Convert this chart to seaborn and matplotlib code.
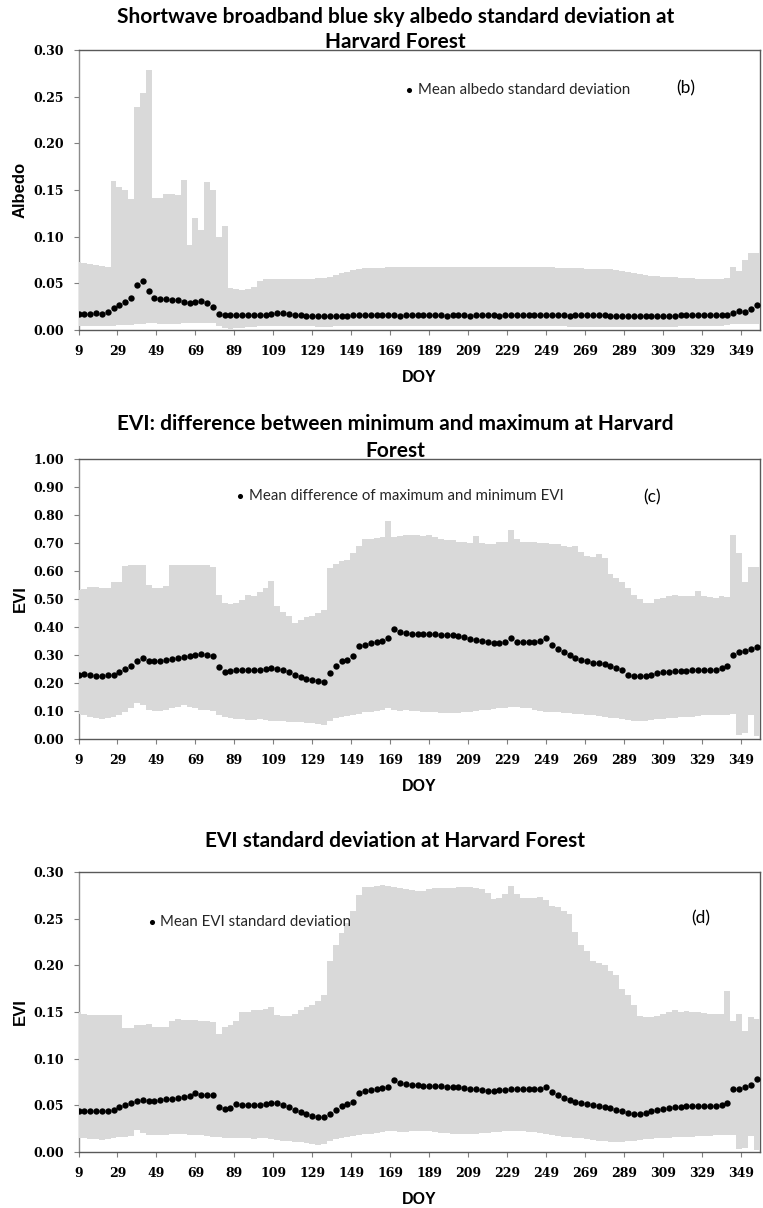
import numpy as np
import matplotlib
matplotlib.use("Agg")
import matplotlib.pyplot as plt
import seaborn as sns
from matplotlib.ticker import MultipleLocator, FormatStrFormatter

# ---------------- data (3-day resolution) ----------------
doy = list(range(9, 358, 3))          # day-of-year categories 9 ... 357
xtick_days = [9, 29, 49, 69, 89, 109, 129, 149, 169, 189, 209, 229, 249, 269, 289, 309, 329, 349]

# (b) Shortwave broadband blue sky albedo standard deviation
alb_max = [.073, .072, .071, .070, .069, .067, .160, .153, .150, .140,
           .239, .254, .279, .141, .141, .146, .146, .145, .161, .091,
           .120, .107, .159, .150, .100, .111, .045, .044, .043, .044,
           .046, .052, .055, .055, .055, .055, .055, .055, .055, .055,
           .055, .056, .056, .057, .059, .061, .062, .064, .065, .066,
           .066, .066, .066, .067, .067, .067, .067, .068, .068, .068,
           .068, .068, .068, .067, .068, .068, .068, .067, .067, .068,
           .068, .068, .068, .068, .067, .067, .067, .067, .067, .067,
           .067, .067, .066, .066, .066, .066, .066, .065, .065, .065,
           .065, .065, .064, .063, .062, .061, .060, .059, .058, .058,
           .057, .057, .057, .056, .056, .056, .055, .055, .055, .055,
           .055, .056, .068, .063, .075, .083, .082]
alb_min = [.004, .004, .004, .004, .004, .004, .004, .005, .005, .005,
           .006, .006, .007, .007, .006, .006, .006, .006, .007, .007,
           .007, .008, .008, .007, .004, .002, .001, .002, .002, .003,
           .003, .004, .004, .004, .004, .004, .004, .004, .004, .004,
           .004, .003, .003, .003, .004, .004, .004, .004, .004, .004,
           .004, .004, .004, .004, .004, .004, .004, .004, .004, .004,
           .004, .004, .004, .004, .004, .004, .004, .004, .004, .004,
           .004, .004, .004, .004, .004, .004, .004, .004, .004, .004,
           .004, .004, .004, .004, .003, .003, .003, .003, .003, .003,
           .003, .003, .003, .003, .003, .003, .003, .003, .003, .003,
           .003, .003, .003, .004, .004, .004, .004, .004, .004, .004,
           .004, .005, .006, .006, .006, .006, .006]
alb_mean = [.017, .017, .017, .018, .017, .019, .024, .027, .030, .034,
            .048, .052, .042, .034, .033, .033, .032, .032, .030, .029,
            .030, .031, .029, .025, .017, .016, .016, .016, .016, .016,
            .016, .016, .016, .017, .018, .018, .017, .016, .016, .015,
            .015, .015, .015, .015, .015, .015, .015, .016, .016, .016,
            .016, .016, .016, .016, .016, .015, .016, .016, .016, .016,
            .016, .016, .016, .015, .016, .016, .016, .015, .016, .016,
            .016, .016, .015, .016, .016, .016, .016, .016, .016, .016,
            .016, .016, .016, .016, .015, .016, .016, .016, .016, .016,
            .016, .015, .015, .015, .015, .015, .015, .015, .015, .015,
            .015, .015, .015, .016, .016, .016, .016, .016, .016, .016,
            .016, .016, .018, .020, .019, .022, .027]

# (c) EVI: difference between minimum and maximum
evid_max = [.532, .535, .544, .544, .540, .538, .562, .562, .618, .620,
            .620, .620, .550, .538, .540, .545, .620, .620, .620, .620,
            .620, .620, .620, .615, .514, .485, .482, .485, .495, .514,
            .510, .525, .540, .565, .475, .455, .440, .415, .425, .435,
            .440, .450, .460, .610, .625, .635, .640, .665, .690, .715,
            .715, .718, .720, .780, .720, .725, .728, .730, .728, .725,
            .730, .722, .715, .712, .710, .705, .702, .700, .725, .700,
            .698, .698, .702, .705, .745, .715, .705, .705, .705, .700,
            .700, .698, .695, .690, .685, .690, .668, .655, .650, .660,
            .645, .590, .575, .560, .540, .515, .500, .485, .485, .500,
            .505, .510, .515, .510, .512, .510, .530, .510, .508, .505,
            .510, .508, .730, .665, .562, .615, .615]
evid_min = [.090, .085, .080, .075, .070, .075, .080, .085, .095, .110,
            .130, .120, .105, .100, .100, .105, .110, .115, .120, .115,
            .110, .105, .105, .100, .085, .080, .075, .070, .070, .068,
            .068, .070, .068, .065, .065, .063, .062, .060, .060, .058,
            .058, .055, .050, .065, .075, .080, .082, .085, .090, .095,
            .095, .100, .105, .110, .105, .100, .105, .100, .100, .098,
            .096, .095, .094, .092, .092, .093, .095, .098, .100, .102,
            .105, .108, .110, .112, .115, .115, .112, .110, .105, .100,
            .098, .096, .095, .094, .092, .090, .088, .086, .085, .082,
            .080, .076, .074, .070, .068, .066, .065, .066, .068, .070,
            .072, .074, .076, .078, .078, .080, .082, .084, .085, .086,
            .086, .085, .090, .015, .020, .085, .010]
evid_mean = [.230, .232, .228, .226, .226, .228, .230, .238, .250, .262,
             .280, .288, .280, .278, .280, .283, .285, .288, .292, .295,
             .300, .302, .300, .298, .258, .238, .242, .248, .248, .248,
             .247, .248, .250, .255, .250, .245, .238, .230, .222, .215,
             .210, .208, .205, .235, .262, .278, .282, .295, .332, .335,
             .342, .345, .350, .360, .392, .382, .378, .376, .375, .375,
             .376, .375, .373, .372, .370, .368, .365, .358, .352, .350,
             .345, .342, .342, .348, .360, .348, .345, .345, .345, .350,
             .360, .335, .322, .310, .300, .290, .282, .278, .272, .270,
             .268, .262, .255, .245, .228, .225, .225, .226, .230, .236,
             .238, .240, .242, .242, .244, .245, .246, .245, .245, .246,
             .252, .260, .300, .310, .315, .322, .328]

# (d) EVI standard deviation
evis_max = [.150, .148, .147, .147, .147, .147, .147, .147, .133, .133,
            .136, .136, .137, .134, .134, .134, .140, .143, .141, .141,
            .141, .140, .140, .139, .126, .134, .136, .140, .150, .150,
            .152, .152, .153, .155, .147, .146, .146, .148, .152, .155,
            .158, .162, .168, .205, .222, .235, .245, .258, .275, .284,
            .284, .285, .286, .285, .284, .283, .282, .281, .280, .280,
            .282, .283, .283, .283, .283, .284, .284, .284, .283, .282,
            .278, .271, .272, .276, .285, .276, .272, .272, .272, .273,
            .270, .264, .262, .258, .255, .236, .222, .215, .205, .203,
            .200, .194, .190, .175, .168, .158, .146, .145, .145, .146,
            .148, .150, .152, .150, .151, .150, .150, .149, .148, .148,
            .148, .172, .140, .148, .130, .145, .142]
evis_min = [.015, .015, .014, .014, .013, .014, .015, .016, .016, .017,
            .024, .020, .018, .018, .018, .018, .019, .019, .019, .018,
            .018, .018, .017, .016, .016, .015, .015, .015, .015, .015,
            .014, .015, .015, .014, .013, .012, .012, .011, .011, .010,
            .009, .008, .009, .012, .014, .015, .016, .017, .018, .019,
            .019, .020, .021, .022, .022, .021, .021, .022, .022, .023,
            .022, .021, .020, .020, .019, .019, .019, .019, .019, .020,
            .020, .021, .021, .022, .022, .022, .022, .021, .021, .020,
            .019, .018, .017, .016, .016, .015, .015, .014, .013, .012,
            .012, .011, .011, .011, .012, .012, .013, .014, .014, .015,
            .015, .015, .016, .016, .016, .016, .017, .017, .017, .018,
            .018, .018, .018, .003, .004, .017, .002]
evis_mean = [.044, .044, .044, .044, .044, .044, .045, .048, .050, .052,
             .055, .056, .055, .055, .056, .057, .057, .058, .059, .060,
             .063, .061, .061, .061, .048, .046, .047, .051, .050, .050,
             .050, .050, .051, .053, .053, .050, .048, .045, .043, .041,
             .039, .038, .037, .041, .045, .049, .051, .054, .063, .065,
             .066, .067, .069, .070, .077, .074, .073, .072, .072, .071,
             .071, .071, .071, .070, .070, .070, .069, .068, .067, .066,
             .065, .065, .066, .066, .068, .067, .067, .067, .067, .068,
             .070, .064, .061, .058, .056, .054, .052, .051, .050, .049,
             .048, .047, .045, .044, .042, .041, .041, .042, .044, .045,
             .046, .047, .048, .048, .049, .049, .049, .049, .049, .049,
             .050, .052, .067, .068, .070, .072, .078]

for arr in (alb_max, alb_min, alb_mean, evid_max, evid_min, evid_mean,
            evis_max, evis_min, evis_mean):
    assert len(arr) == len(doy), len(arr)

# ---------------- styling ----------------
sns.set_theme(style="white")
plt.rcParams['font.family'] = ['Lato', 'DejaVu Sans']

W, H = 763, 1208
fig = plt.figure(figsize=(W / 100, H / 100), dpi=100)

BAND = '#d9d9d9'
SPINE = '#595959'
TICKC = '#808080'


def rect(top, bottom, left=78.5, right=759.5):
    return [left / W, 1 - bottom / H, (right - left) / W, (bottom - top) / H]


panels = [
    dict(r=rect(50, 330), lo=alb_min, hi=alb_max, mean=alb_mean,
         ymax=0.30, ystep=0.05, ylabel='Albedo',
         titles=[('Shortwave broadband blue sky albedo standard deviation at', 1.0975),
                 ('Harvard Forest', 1.006)],
         leg='Mean albedo standard deviation', leg_xy=(0.480, 0.857),
         tag='(b)', tag_xy=(0.892, 0.864)),
    dict(r=rect(459, 739), lo=evid_min, hi=evid_max, mean=evid_mean,
         ymax=1.00, ystep=0.10, ylabel='EVI',
         titles=[('EVI: difference between minimum and maximum at Harvard', 1.105),
                 ('Forest', 1.007)],
         leg='Mean difference of maximum and minimum EVI', leg_xy=(0.232, 0.868),
         tag='(c)', tag_xy=(0.842, 0.862)),
    dict(r=rect(872, 1152), lo=evis_min, hi=evis_max, mean=evis_mean,
         ymax=0.30, ystep=0.05, ylabel='EVI',
         titles=[('EVI standard deviation at Harvard Forest', 1.091)],
         leg='Mean EVI standard deviation', leg_xy=(0.102, 0.8225),
         tag='(d)', tag_xy=(0.914, 0.835)),
]

for p in panels:
    ax = fig.add_axes(p['r'])
    lo = np.array(p['lo'])
    hi = np.array(p['hi'])
    ax.bar(doy, hi - lo, bottom=lo, width=3.0, color=BAND, linewidth=0,
           align='center', zorder=2.6)
    sns.scatterplot(x=doy, y=p['mean'], ax=ax, color='black', s=21,
                    linewidth=0, zorder=4, label=p['leg'])

    ax.set_xlim(9, 358.5)
    ax.set_ylim(0, p['ymax'])
    ax.yaxis.set_major_locator(MultipleLocator(p['ystep']))
    ax.yaxis.set_major_formatter(FormatStrFormatter('%.2f'))
    ax.set_xticks(xtick_days)
    ax.set_xticklabels([str(d) for d in xtick_days])
    ax.tick_params(axis='both', which='major', direction='out', length=3.6,
                   width=0.8, color=TICKC, pad=7, labelsize=9,
                   bottom=True, left=True, top=False, right=False,
                   labelcolor='black')
    for lbl in ax.get_xticklabels() + ax.get_yticklabels():
        lbl.set_fontfamily('DejaVu Serif')
        lbl.set_fontweight('bold')

    for name, s in ax.spines.items():
        s.set_visible(True)
        s.set_color(SPINE)
        s.set_linewidth(1.0)
    ax.spines['left'].set_color('#8c8c8c')

    ax.set_ylabel(p['ylabel'], fontfamily='Liberation Sans', fontweight='bold',
                  fontsize=12, color='black')
    ax.yaxis.set_label_coords(-0.075, 0.5)
    ax.set_xlabel('DOY', fontfamily='Liberation Sans', fontweight='bold',
                  fontsize=11.5, color='black')
    ax.xaxis.set_label_coords(0.5, -0.143)

    for txt, yy in p['titles']:
        ax.text(0.465, yy, txt, transform=ax.transAxes, ha='center',
                va='baseline', fontsize=15, fontweight='bold',
                fontfamily='Lato', color='black', zorder=6)

    ax.legend(loc='center left', bbox_to_anchor=p['leg_xy'], frameon=False,
              handlelength=0.5, handletextpad=0.32, borderpad=0,
              borderaxespad=0, scatterpoints=1, markerscale=0.8,
              prop={'family': 'Lato', 'size': 10.8})
    ax.text(p['tag_xy'][0], p['tag_xy'][1], p['tag'], transform=ax.transAxes,
            ha='center', va='center', fontsize=12.5, fontfamily='Lato',
            color='black')
    ax.grid(False)

fig.savefig('out.png', dpi=100, facecolor='white')
